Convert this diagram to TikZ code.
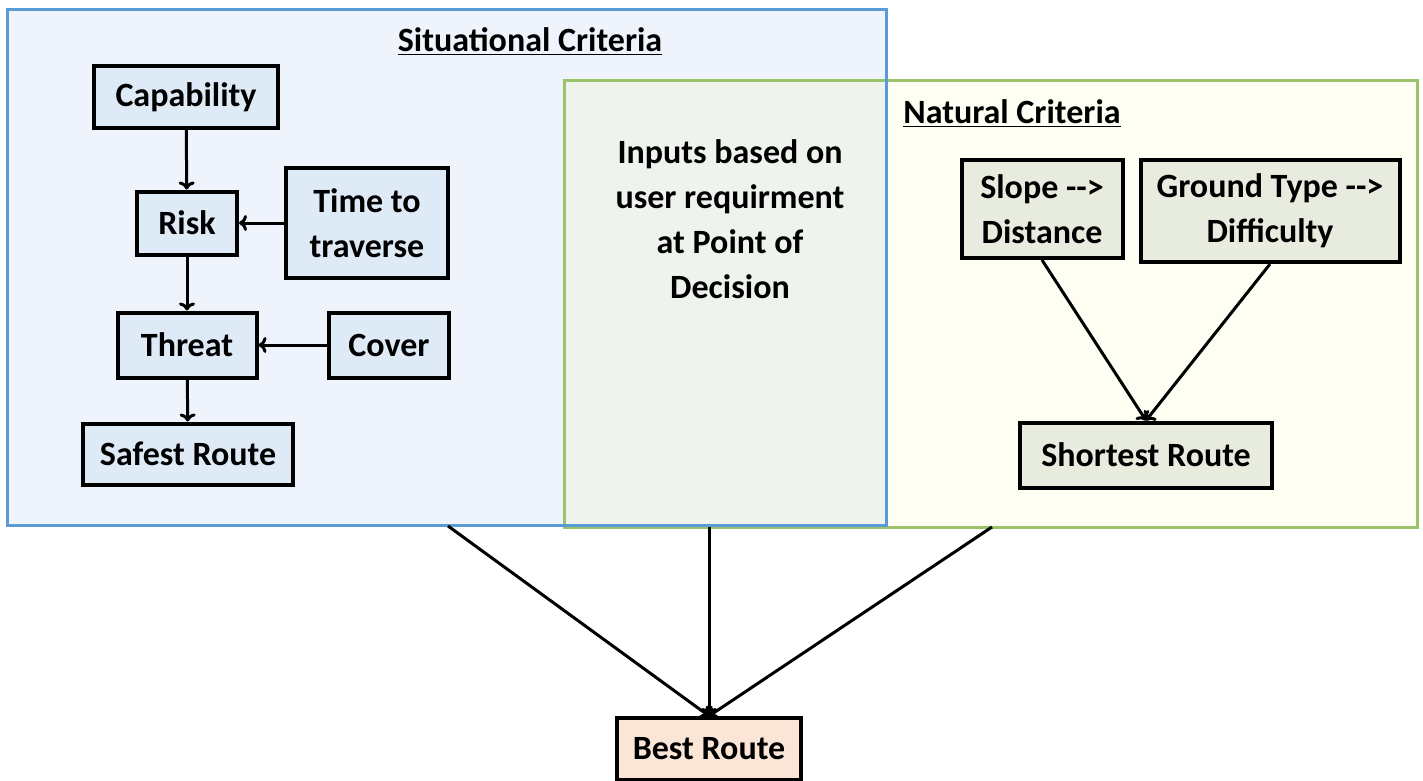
\documentclass[tikz,border=0pt]{standalone}
\usepackage{fontspec}
\setmainfont{Carlito}
\usetikzlibrary{arrows.meta}

\definecolor{sitfill}{HTML}{EFF4FC}
\definecolor{sitline}{HTML}{5B9BD5}
\definecolor{natfill}{HTML}{FEFEF3}
\definecolor{natline}{HTML}{9BC46A}
\definecolor{overfill}{HTML}{EFF3EE}
\definecolor{sitbox}{HTML}{DEEBF7}
\definecolor{natbox}{HTML}{E8ECDF}
\definecolor{bestbox}{HTML}{FBE5D6}

\tikzset{
    txt/.style={font=\bfseries\fontsize{17}{22.5}\selectfont, align=center, inner sep=0pt},
    sbox/.style={txt, draw, line width=2pt, fill=sitbox},
    nbox/.style={txt, draw, line width=2pt, fill=natbox},
    link/.style={line width=1.5pt, -{To[length=4pt, width=8pt]}}
}

\begin{document}
\begin{tikzpicture}[x=0.5pt, y=-0.5pt]
        \useasboundingbox (0, 0) rectangle (1423, 781);

        \node at (447, 267.5)[minimum width=439pt, minimum height=257.5pt, fill=sitfill, inner sep=0pt] (sit){};
        \node at (991, 304)[minimum width=426pt, minimum height=223pt, fill=natfill, inner sep=0pt] (nat){};
        \begin{scope}
            \clip (sit.south west) rectangle (sit.north east);
            \fill[overfill] (nat.south west) rectangle (nat.north east);
        \end{scope}
        \draw[natline, line width=1.3pt] (nat.south west) rectangle (nat.north east);
        \draw[sitline, line width=1.3pt] (sit.south west) rectangle (sit.north east);

        \node[txt] at (530, 42) (sittitle){\underline{Situational Criteria}};
        \node[txt, anchor=west] at (903, 114) (nattitle){\underline{Natural Criteria}};

        \node[sbox, minimum width=92pt, minimum height=31pt] at (186, 97) (cap){Capability};
        \node[sbox, minimum width=50pt, minimum height=31.5pt] at (187, 223) (risk){Risk};
        \node[sbox, minimum width=81pt, minimum height=55pt] at (367, 223) (time){Time to\\traverse};
        \node[sbox, minimum width=69.5pt, minimum height=32.5pt] at (187, 345) (threat){Threat};
        \node[sbox, minimum width=60pt, minimum height=32.5pt] at (389, 345) (cover){Cover};
        \node[sbox, minimum width=105pt, minimum height=30.5pt] at (188, 454) (safest){Safest Route};

        \node[txt] at (730, 219) (inputs){Inputs based on\\user requirment\\at Point of\\Decision};

        \node[nbox, minimum width=80.5pt, minimum height=49pt] at (1042, 209) (slope){Slope -{}->\\Distance};
        \node[nbox, minimum width=129.5pt, minimum height=51pt] at (1270, 211) (ground){Ground Type -{}->\\Difficulty};
        \node[nbox, minimum width=126pt, minimum height=32.5pt] at (1146, 455) (shortest){Shortest Route};

        \node[txt, draw, line width=2pt, fill=bestbox, minimum width=92pt, minimum height=31pt] at (709, 749) (best){Best Route};

        \draw[link] (cap) -- (risk);
        \draw[link] (time) -- (risk);
        \draw[link] (risk) -- (threat);
        \draw[link] (cover) -- (threat);
        \draw[link] (threat) -- (safest);

        \draw[link] (slope.south) -- (shortest.north);
        \draw[link] (ground.south) -- (shortest.north);

        \coordinate (sitout) at (448, 526);
        \coordinate (inout) at (709, 527);
        \coordinate (natout) at (992, 527);
        \draw[link] (sitout) -- (best.north);
        \draw[link] (inout) -- (best.north);
        \draw[link] (natout) -- (best.north);
    \end{tikzpicture}
\end{document}
